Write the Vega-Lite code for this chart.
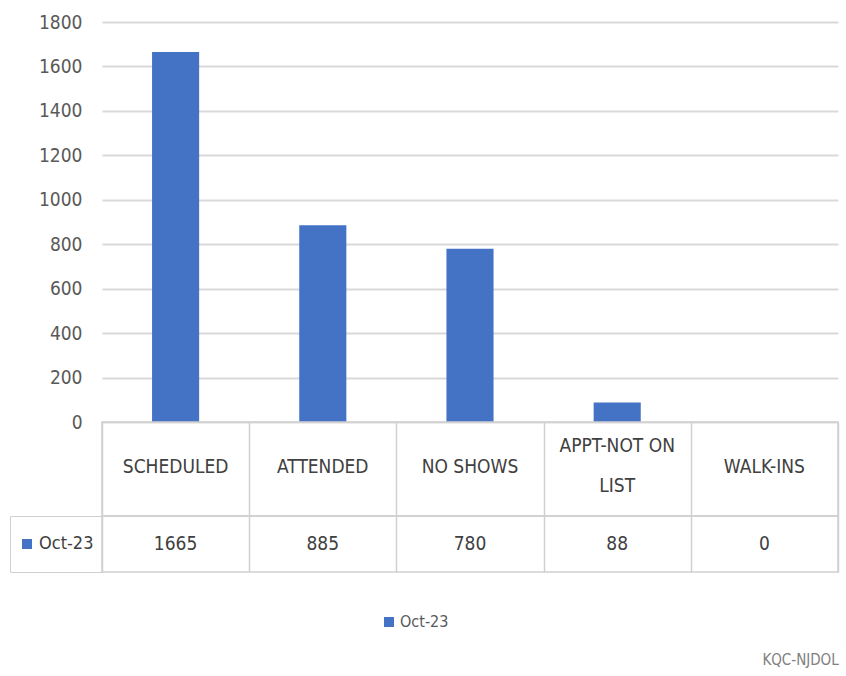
{
  "$schema": "https://vega.github.io/schema/vega-lite/v6.json",
  "padding": {"left": 8, "top": 13, "right": 8, "bottom": 0},
  "background": "white",
  "bounds": "flush",
  "datasets": {
    "visits": [
      {"category": "SCHEDULED", "series": "Oct-23", "count": 1665},
      {"category": "ATTENDED", "series": "Oct-23", "count": 885},
      {"category": "NO SHOWS", "series": "Oct-23", "count": 780},
      {"category": "APPT-NOT ON LIST", "series": "Oct-23", "count": 88},
      {"category": "WALK-INS", "series": "Oct-23", "count": 0}
    ]
  },
  "title": {
    "text": "KQC-NJDOL",
    "orient": "bottom",
    "anchor": "end",
    "color": "#808080",
    "fontSize": 15,
    "fontWeight": "normal",
    "offset": 23
  },
  "vconcat": [
    {
      "width": 736,
      "height": 400,
      "data": {"name": "visits"},
      "mark": {"type": "bar", "color": "#4472C4"},
      "encoding": {
        "x": {
          "field": "category",
          "type": "nominal",
          "sort": null,
          "axis": null,
          "scale": {"paddingInner": 0.68, "paddingOuter": 0.34}
        },
        "y": {
          "field": "count",
          "type": "quantitative",
          "scale": {"domain": [0, 1800], "nice": false},
          "axis": {
            "title": null,
            "values": [0, 200, 400, 600, 800, 1000, 1200, 1400, 1600, 1800],
            "format": "d",
            "domain": false,
            "ticks": false,
            "labelPadding": 20,
            "labelFontSize": 19,
            "labelColor": "#595959",
            "gridColor": "#d9d9d9",
            "gridWidth": 2
          }
        }
      }
    },
    {
      "width": 736,
      "height": 94,
      "view": {"stroke": "#d0d0d0", "strokeWidth": 1.5},
      "data": {"name": "visits"},
      "encoding": {
        "x": {
          "field": "category",
          "type": "nominal",
          "scale": {
            "padding": 0,
            "domain": ["SCHEDULED", "ATTENDED", "NO SHOWS", "APPT-NOT ON LIST", "WALK-INS"]
          },
          "axis": {
            "title": null,
            "labels": false,
            "ticks": false,
            "domain": false,
            "grid": true,
            "tickBand": "extent",
            "gridColor": "#d0d0d0",
            "gridWidth": 1.5
          }
        }
      },
      "layer": [
        {
          "transform": [{"filter": "datum.category != 'APPT-NOT ON LIST'"}],
          "mark": {"type": "text", "fontSize": 19, "color": "#404040", "baseline": "middle", "dy": -2},
          "encoding": {"text": {"field": "category"}}
        },
        {
          "transform": [
            {"filter": "datum.category == 'APPT-NOT ON LIST'"},
            {"calculate": "['APPT-NOT ON', 'LIST']", "as": "header"}
          ],
          "mark": {"type": "text", "fontSize": 19, "color": "#404040", "baseline": "middle", "lineHeight": 40, "dy": -23},
          "encoding": {"text": {"field": "header"}}
        }
      ]
    },
    {
      "width": 736,
      "height": 56,
      "view": {"stroke": "#d0d0d0", "strokeWidth": 1.5},
      "data": {"name": "visits"},
      "encoding": {
        "x": {
          "field": "category",
          "type": "nominal",
          "scale": {
            "padding": 0,
            "domain": ["SCHEDULED", "ATTENDED", "NO SHOWS", "APPT-NOT ON LIST", "WALK-INS"]
          },
          "axis": {
            "title": null,
            "labels": false,
            "ticks": false,
            "domain": false,
            "grid": true,
            "tickBand": "extent",
            "gridColor": "#d0d0d0",
            "gridWidth": 1.5
          }
        }
      },
      "layer": [
        {
          "mark": {"type": "text", "fontSize": 19, "color": "#404040", "baseline": "middle"},
          "encoding": {"text": {"field": "count", "type": "quantitative"}}
        },
        {
          "mark": {"type": "square", "opacity": 0},
          "encoding": {
            "color": {
              "field": "series",
              "type": "nominal",
              "scale": {"range": ["#4472C4"]},
              "legend": {
                "orient": "left",
                "title": null,
                "offset": 0,
                "padding": 8,
                "clipHeight": 40,
                "strokeColor": "#d0d0d0",
                "symbolType": "square",
                "symbolOpacity": 1,
                "symbolSize": 100,
                "labelOffset": 3,
                "labelFontSize": 18,
                "labelColor": "#404040"
              }
            }
          }
        }
      ]
    },
    {
      "width": 736,
      "height": 4,
      "data": {"name": "visits"},
      "mark": {"type": "square", "opacity": 0},
      "encoding": {
        "x": {"field": "category", "type": "nominal", "sort": null, "axis": null},
        "color": {
          "field": "series",
          "type": "nominal",
          "scale": {"range": ["#4472C4"]},
          "legend": {
            "orient": "none",
            "legendX": 279,
            "legendY": 42,
            "title": null,
            "symbolType": "square",
            "symbolOpacity": 1,
            "symbolSize": 100,
            "labelOffset": 3,
            "labelFontSize": 16,
            "labelColor": "#595959"
          }
        }
      }
    }
  ],
  "spacing": 0,
  "resolve": {
    "scale": {"x": "independent"},
    "legend": {"color": "independent"}
  },
  "config": {
    "font": "DejaVu Sans Condensed, Open Sans, sans-serif",
    "view": {"stroke": null}
  }
}
